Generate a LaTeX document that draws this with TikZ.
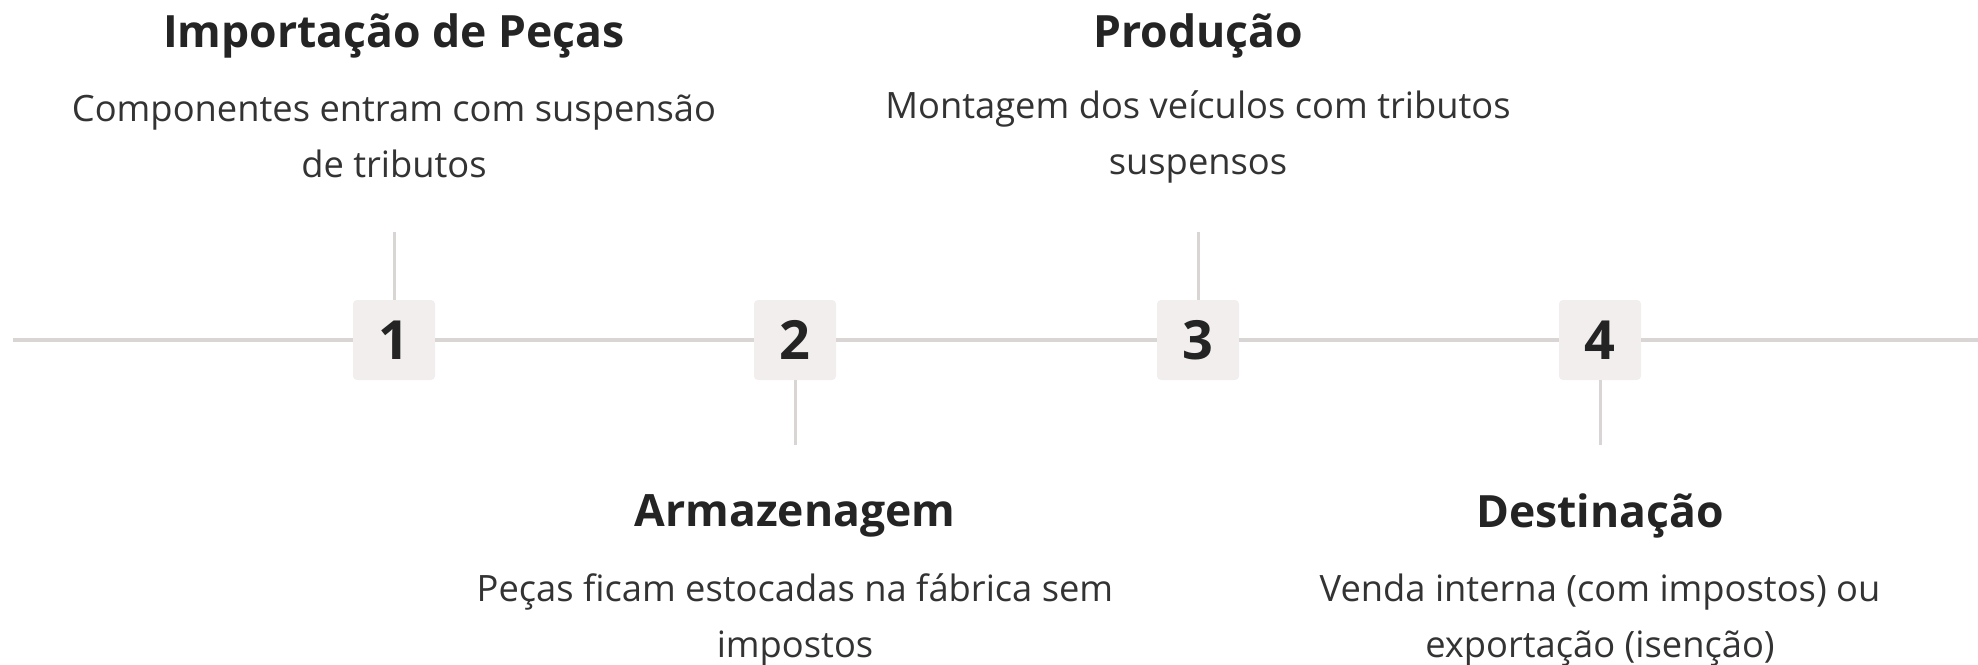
\documentclass[tikz,border=0pt]{standalone}
\usepackage{fontspec}
\setmainfont{Open Sans}
\definecolor{linegray}{HTML}{D9D5D5}
\definecolor{boxfill}{HTML}{F1EEED}
\definecolor{ink}{HTML}{242424}
\definecolor{descink}{HTML}{333333}
\begin{document}
\begin{tikzpicture}[x=1pt,y=-1pt,
  axis/.style={draw=linegray,line width=4pt},
  stem/.style={draw=linegray,line width=3pt},
  numbox/.style={fill=boxfill,rounded corners=4pt,minimum width=82pt,minimum height=80pt,inner sep=0pt,
    font=\fontsize{54}{60}\selectfont\bfseries,text=ink},
  title/.style={font=\fontsize{44.5}{50}\selectfont\bfseries,text=ink,inner sep=0pt},
  desc/.style={font=\fontsize{36.3}{56}\selectfont,text=descink,align=center,inner sep=0pt}]
\useasboundingbox (0,0) rectangle (1978,664);
% axis end points
\coordinate (L) at (13,340);
\coordinate (R) at (1978,340);
% number boxes
\node[numbox] (n1) at (394,340) {1};
\node[numbox] (n2) at (795,340) {2};
\node[numbox] (n3) at (1198,340) {3};
\node[numbox] (n4) at (1600,340) {4};
% axis
\draw[axis] (L) -- (n1.west);
\draw[axis] (n1.east) -- (n2.west);
\draw[axis] (n2.east) -- (n3.west);
\draw[axis] (n3.east) -- (n4.west);
\draw[axis] (n4.east) -- (R);
% stems
\coordinate (s1) at (394,232);
\coordinate (s2) at (795,445);
\coordinate (s3) at (1198,232);
\coordinate (s4) at (1600,445);
\draw[stem] (s1) -- (n1.north);
\draw[stem] (n2.south) -- (s2);
\draw[stem] (s3) -- (n3.north);
\draw[stem] (n4.south) -- (s4);
% texts
\node[title] (h1) at (394,36) {Importação de Peças};
\node[desc] (d1) at (394,136.5) {Componentes entram com suspensão\\de tributos};
\node[title] (h3) at (1198,36) {Produção};
\node[desc] (d3) at (1198,136.5) {Montagem dos veículos com tributos\\suspensos};
\node[title] (h2) at (795,516) {Armazenagem};
\node[desc] (d2) at (795,620) {Peças ficam estocadas na fábrica sem\\impostos};
\node[title] (h4) at (1600,516) {Destinação};
\node[desc] (d4) at (1600,620) {Venda interna (com impostos) ou\\exportação (isenção)};
\end{tikzpicture}
\end{document}
